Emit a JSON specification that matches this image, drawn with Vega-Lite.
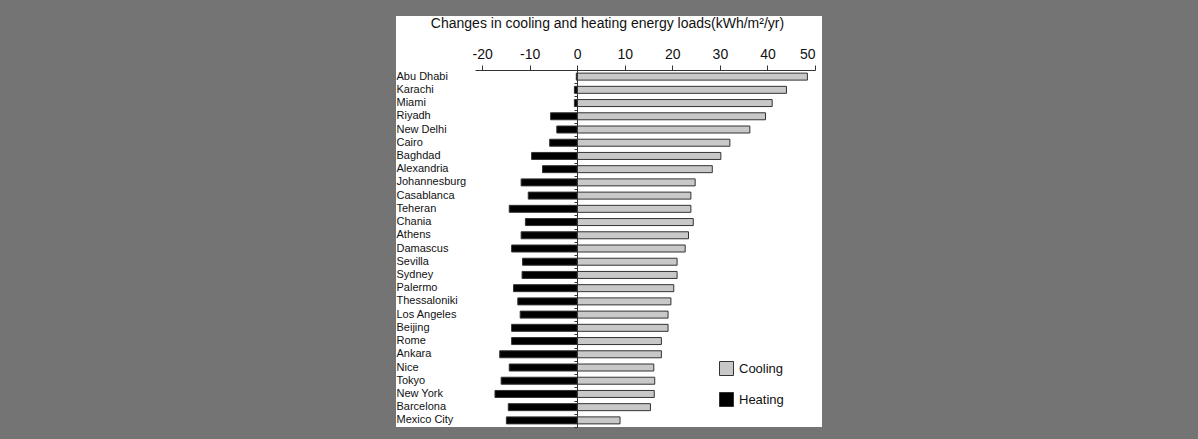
{
  "$schema": "https://vega.github.io/schema/vega-lite/v6.json",
  "autosize": {"type": "none"},
  "width": 426,
  "height": 411,
  "padding": {"left": 396, "top": 16, "right": 376, "bottom": 12},
  "background": "#747474",
  "config": {"view": {"fill": "white", "stroke": null}, "font": "Liberation Sans"},
  "data": {"values": [
    {"city": "Abu Dhabi", "type": "Cooling", "value": 48.4},
    {"city": "Abu Dhabi", "type": "Heating", "value": -0.2},
    {"city": "Karachi", "type": "Cooling", "value": 44.0},
    {"city": "Karachi", "type": "Heating", "value": -0.6},
    {"city": "Miami", "type": "Cooling", "value": 41.0},
    {"city": "Miami", "type": "Heating", "value": -0.6},
    {"city": "Riyadh", "type": "Cooling", "value": 39.6},
    {"city": "Riyadh", "type": "Heating", "value": -5.6},
    {"city": "New Delhi", "type": "Cooling", "value": 36.3},
    {"city": "New Delhi", "type": "Heating", "value": -4.3},
    {"city": "Cairo", "type": "Cooling", "value": 32.1},
    {"city": "Cairo", "type": "Heating", "value": -5.8},
    {"city": "Baghdad", "type": "Cooling", "value": 30.2},
    {"city": "Baghdad", "type": "Heating", "value": -9.6},
    {"city": "Alexandria", "type": "Cooling", "value": 28.4},
    {"city": "Alexandria", "type": "Heating", "value": -7.3},
    {"city": "Johannesburg", "type": "Cooling", "value": 24.8},
    {"city": "Johannesburg", "type": "Heating", "value": -11.8},
    {"city": "Casablanca", "type": "Cooling", "value": 23.9},
    {"city": "Casablanca", "type": "Heating", "value": -10.3},
    {"city": "Teheran", "type": "Cooling", "value": 23.9},
    {"city": "Teheran", "type": "Heating", "value": -14.3},
    {"city": "Chania", "type": "Cooling", "value": 24.4},
    {"city": "Chania", "type": "Heating", "value": -10.9},
    {"city": "Athens", "type": "Cooling", "value": 23.4},
    {"city": "Athens", "type": "Heating", "value": -11.8},
    {"city": "Damascus", "type": "Cooling", "value": 22.7},
    {"city": "Damascus", "type": "Heating", "value": -13.8},
    {"city": "Sevilla", "type": "Cooling", "value": 21.0},
    {"city": "Sevilla", "type": "Heating", "value": -11.5},
    {"city": "Sydney", "type": "Cooling", "value": 21.0},
    {"city": "Sydney", "type": "Heating", "value": -11.6},
    {"city": "Palermo", "type": "Cooling", "value": 20.3},
    {"city": "Palermo", "type": "Heating", "value": -13.4},
    {"city": "Thessaloniki", "type": "Cooling", "value": 19.7},
    {"city": "Thessaloniki", "type": "Heating", "value": -12.5},
    {"city": "Los Angeles", "type": "Cooling", "value": 19.1},
    {"city": "Los Angeles", "type": "Heating", "value": -12.0},
    {"city": "Beijing", "type": "Cooling", "value": 19.1},
    {"city": "Beijing", "type": "Heating", "value": -13.8},
    {"city": "Rome", "type": "Cooling", "value": 17.7},
    {"city": "Rome", "type": "Heating", "value": -13.8},
    {"city": "Ankara", "type": "Cooling", "value": 17.7},
    {"city": "Ankara", "type": "Heating", "value": -16.3},
    {"city": "Nice", "type": "Cooling", "value": 16.1},
    {"city": "Nice", "type": "Heating", "value": -14.3},
    {"city": "Tokyo", "type": "Cooling", "value": 16.3},
    {"city": "Tokyo", "type": "Heating", "value": -16.0},
    {"city": "New York", "type": "Cooling", "value": 16.2},
    {"city": "New York", "type": "Heating", "value": -17.3},
    {"city": "Barcelona", "type": "Cooling", "value": 15.4},
    {"city": "Barcelona", "type": "Heating", "value": -14.5},
    {"city": "Mexico City", "type": "Cooling", "value": 9.0},
    {"city": "Mexico City", "type": "Heating", "value": -14.9}
  ]},
  "encoding": {
    "x": {
      "field": "value", "type": "quantitative",
      "scale": {"domain": [-21.5, 50], "range": [79, 419], "nice": false},
      "axis": {
        "orient": "top", "offset": -54,
        "values": [-20, -10, 0, 10, 20, 30, 40, 50],
        "labelExpr": "datum.value < 0 ? '-' + abs(datum.value) : '' + datum.value",
        "grid": false,
        "domainColor": "#333", "tickColor": "#333", "tickSize": 5,
        "labelFontSize": 14, "labelColor": "#111", "labelPadding": 4,
        "title": "Changes in cooling and heating energy loads(kWh/m²/yr)",
        "titleFontSize": 14, "titleFontWeight": "normal", "titleColor": "#111",
        "titleX": 211, "titleY": -47, "titleAlign": "center", "titleBaseline": "middle"
      }
    }
  },
  "layer": [
    {
      "mark": {"type": "bar", "size": 7, "stroke": "#333", "strokeWidth": 1},
      "encoding": {
        "y": {
          "field": "city", "type": "nominal", "sort": null,
          "scale": {"range": [54, 411], "paddingInner": 0, "paddingOuter": 0},
          "axis": {
            "orient": "left", "offset": 0, "title": null,
            "domain": false, "ticks": false, "tickSize": 0,
            "labelAlign": "left", "labelBaseline": "middle", "labelPadding": 0,
            "labelFontSize": 11, "labelColor": "#111", "labelOverlap": false
          }
        },
        "color": {
          "field": "type", "type": "nominal",
          "scale": {"domain": ["Cooling", "Heating"], "range": ["#c8c8c8", "#000000"]},
          "legend": {
            "orient": "none", "legendX": 323, "legendY": 345, "title": null,
            "symbolType": "square", "symbolSize": 196, "symbolStrokeColor": "#333",
            "symbolStrokeWidth": 1, "labelFontSize": 13, "labelColor": "#111",
            "labelOffset": 5, "rowPadding": 12, "padding": 0
          }
        }
      }
    },
    {
      "mark": {"type": "bar", "size": 7, "opacity": 0},
      "encoding": {
        "y": {
          "field": "city", "type": "nominal", "sort": null,
          "axis": {
            "orient": "left", "offset": -181, "title": null, "labels": false,
            "domain": true, "domainColor": "#333", "ticks": true, "tickSize": 3,
            "tickColor": "#333", "tickBand": "extent"
          }
        }
      }
    }
  ],
  "resolve": {"axis": {"y": "independent"}}
}
